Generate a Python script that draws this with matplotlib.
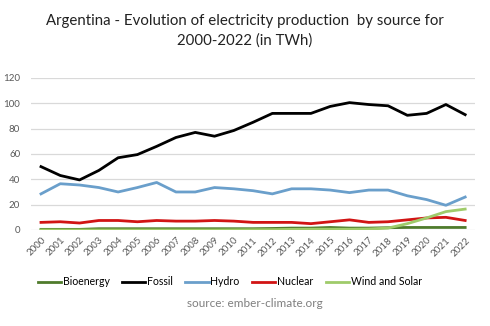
import numpy as np
import matplotlib.pyplot as plt

plt.rcParams['font.family'] = ['Lato', 'DejaVu Sans']

# data (TWh)
years = list(range(2000, 2023))
bioenergy = [0.5, 0.5, 0.5, 1, 1, 1, 1, 1, 1, 1, 1, 1, 1.2, 1.5, 1.5, 2, 1.5, 1.5, 1.8, 2, 2, 2, 2]
fossil = [50, 43, 39.5, 47, 57, 59.5, 66, 73, 77, 74, 78.5, 85, 92, 92, 92, 97.5, 100.5, 99, 98, 90.5, 92, 99, 91]
hydro = [28.5, 36.5, 35.5, 33.5, 30, 33.5, 37.5, 30, 30, 33.5, 32.5, 31, 28.5, 32.5, 32.5, 31.5, 29.5, 31.5, 31.5, 27, 24, 19.5, 26]
nuclear = [6, 6.5, 5.5, 7.5, 7.5, 6.5, 7.5, 7, 7, 7.5, 7, 6, 6, 6, 5, 6.5, 8, 6, 6.5, 8, 9.5, 10, 7.5]
wind_solar = [0, 0, 0, 0, 0, 0, 0, 0, 0, 0, 0.1, 0.2, 0.3, 0.5, 0.6, 0.6, 0.6, 0.8, 1.5, 5, 9.5, 14.5, 16.5]

series = [
    ('Bioenergy', bioenergy, '#4f7b2c'),
    ('Fossil', fossil, '#000000'),
    ('Hydro', hydro, '#6a9fcb'),
    ('Nuclear', nuclear, '#d11414'),
    ('Wind and Solar', wind_solar, '#9fcb6a'),
]

fig = plt.figure(figsize=(4.9, 3.26), dpi=100)
ax = fig.add_axes([0.064, 0.2945, 0.905, 0.4665])

x = np.arange(len(years))
for name, vals, col in series:
    ax.plot(x, vals, color=col, lw=2, label=name, solid_joinstyle='round')

ax.set_xlim(-0.5, len(years) - 0.5)
ax.set_ylim(0, 120)
ax.set_yticks(range(0, 121, 20))
ax.set_xticks(x)
ax.set_xticklabels(years, rotation=45, ha='right', rotation_mode='anchor')
ax.grid(axis='y', color='#d9d9d9', lw=0.9)
ax.set_axisbelow(True)
for s in ax.spines.values():
    s.set_visible(False)
ax.tick_params(length=0, labelsize=7, colors='#595959', pad=4)
ax.tick_params(axis='y', pad=8)

fig.text(0.5, 0.935, 'Argentina - Evolution of electricity production  by source for',
         ha='center', va='center', fontsize=10.8, color='#222222')
fig.text(0.5, 0.875, '2000-2022 (in TWh)', ha='center', va='center', fontsize=10.8, color='#222222')

fig.legend(loc='center', bbox_to_anchor=(0.469, 0.135), ncol=5, frameon=False,
           fontsize=7.6, handlelength=2.2, handletextpad=0.15, columnspacing=1.2)
fig.text(0.52, 0.07, 'source: ember-climate.org', ha='center', va='center',
         fontsize=8.5, color='#7f7f7f')

fig.savefig('out.png', dpi=100)
